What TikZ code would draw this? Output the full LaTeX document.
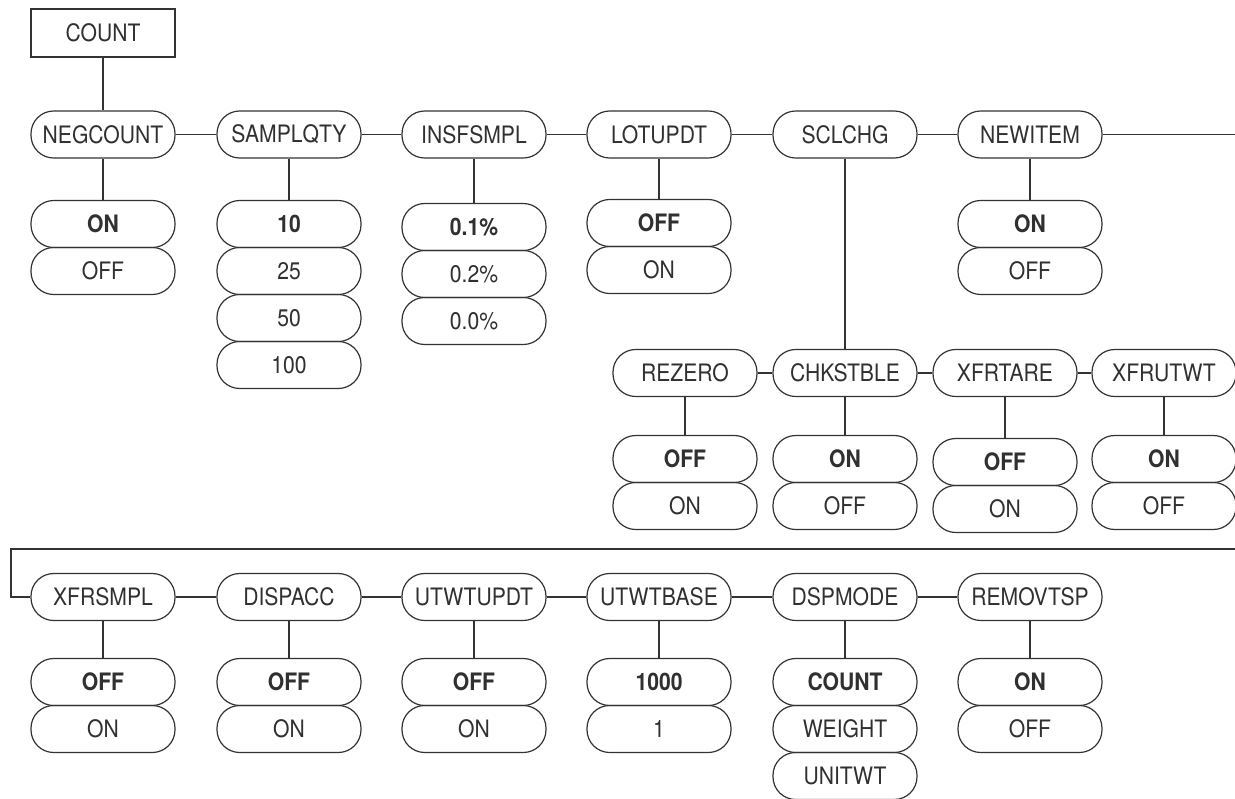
\documentclass[tikz,border=0pt]{standalone}
\usepackage{fontspec}
\setmainfont[FakeStretch=0.88]{TeX Gyre Heros}
\definecolor{ln}{HTML}{333333}
\definecolor{txt}{HTML}{303030}
\begin{document}
\begin{tikzpicture}[x=0.75pt,y=-0.75pt,
  every node/.style={font=\fontsize{18}{21}\selectfont, text=txt},
  menu/.style={draw=ln, line width=0.9pt, rounded corners=17pt, minimum width=108pt, minimum height=35.25pt, inner sep=0pt},
  dflt/.style={menu, font=\fontsize{18}{21}\selectfont\bfseries},
  topbox/.style={draw=ln, line width=0.9pt, minimum width=108pt, minimum height=36pt, inner sep=0pt},
  link/.style={draw=ln, line width=0.9pt}]
\useasboundingbox (0,0) rectangle (1235,799);

% top
\node[topbox] (count) at (103,33) {COUNT};

% row 1
\node[menu] (neg)  at (103,134.5) {NEGCOUNT};
\node[menu] (samp) at (289,134.5) {SAMPLQTY};
\node[menu] (insf) at (474,134.5) {INSFSMPL};
\node[menu] (lot)  at (659,134.5) {LOTUPDT};
\node[menu] (scl)  at (845,134.5) {SCLCHG};
\node[menu] (newi) at (1030,134.5) {NEWITEM};

\node[dflt] (neg1) at (103,224) {ON};
\node[menu] (neg2) at (103,271) {OFF};
\node[dflt] (samp1) at (289,224) {10};
\node[menu] (samp2) at (289,271) {25};
\node[menu] (samp3) at (289,318) {50};
\node[menu] (samp4) at (289,365) {100};
\node[dflt] (insf1) at (474,227) {0.1\%};
\node[menu] (insf2) at (474,274) {0.2\%};
\node[menu] (insf3) at (474,321) {0.0\%};
\node[dflt] (lot1) at (659,223) {OFF};
\node[menu] (lot2) at (659,270) {ON};
\node[dflt] (newi1) at (1030,224) {ON};
\node[menu] (newi2) at (1030,271) {OFF};

% row 2
\node[menu] (rez)   at (685,373) {REZERO};
\node[menu] (chk)   at (845,373) {CHKSTBLE};
\node[menu] (xtare) at (1005,373) {XFRTARE};
\node[menu] (xutwt) at (1164,373) {XFRUTWT};

\node[dflt] (rez1) at (685,459) {OFF};
\node[menu] (rez2) at (685,506) {ON};
\node[dflt] (chk1) at (845,459) {ON};
\node[menu] (chk2) at (845,506) {OFF};
\node[dflt] (xtare1) at (1005,462) {OFF};
\node[menu] (xtare2) at (1005,509) {ON};
\node[dflt] (xutwt1) at (1164,459) {ON};
\node[menu] (xutwt2) at (1164,506) {OFF};

% row 3
\node[menu] (xsmpl)  at (103,597) {XFRSMPL};
\node[menu] (disp)   at (289,597) {DISPACC};
\node[menu] (utup)   at (474,597) {UTWTUPDT};
\node[menu] (utbase) at (659,597) {UTWTBASE};
\node[menu] (dsp)    at (845,597) {DSPMODE};
\node[menu] (remov)  at (1030,597) {REMOVTSP};

\node[dflt] (xsmpl1) at (103,682) {OFF};
\node[menu] (xsmpl2) at (103,729) {ON};
\node[dflt] (disp1) at (289,682) {OFF};
\node[menu] (disp2) at (289,729) {ON};
\node[dflt] (utup1) at (474,682) {OFF};
\node[menu] (utup2) at (474,729) {ON};
\node[dflt] (utbase1) at (659,682) {1000};
\node[menu] (utbase2) at (659,729) {1};
\node[dflt] (dsp1) at (845,682) {COUNT};
\node[menu] (dsp2) at (845,729) {WEIGHT};
\node[menu] (dsp3) at (845,776) {UNITWT};
\node[dflt] (remov1) at (1030,682) {ON};
\node[menu] (remov2) at (1030,729) {OFF};

% connectors
\draw[link] (count) -- (neg);
\draw[link] (neg) -- (samp);
\draw[link] (samp) -- (insf);
\draw[link] (insf) -- (lot);
\draw[link] (lot) -- (scl);
\draw[link] (scl) -- (newi);
\coordinate (r1) at (1235,134.5);
\draw[link] (newi) -- (r1);

\draw[link] (neg) -- (neg1);
\draw[link] (samp) -- (samp1);
\draw[link] (insf) -- (insf1);
\draw[link] (lot) -- (lot1);
\draw[link] (newi) -- (newi1);
\draw[link] (scl) -- (chk);

\draw[link] (rez) -- (chk);
\draw[link] (chk) -- (xtare);
\draw[link] (xtare) -- (xutwt);
\draw[link] (rez) -- (rez1);
\draw[link] (chk) -- (chk1);
\draw[link] (xtare) -- (xtare1);
\draw[link] (xutwt) -- (xutwt1);

\coordinate (r2) at (1235,549);
\coordinate (l2) at (11,549);
\draw[link] (r2) -- (l2) |- (xsmpl);
\draw[link] (xsmpl) -- (disp);
\draw[link] (disp) -- (utup);
\draw[link] (utup) -- (utbase);
\draw[link] (utbase) -- (dsp);
\draw[link] (dsp) -- (remov);
\draw[link] (xsmpl) -- (xsmpl1);
\draw[link] (disp) -- (disp1);
\draw[link] (utup) -- (utup1);
\draw[link] (utbase) -- (utbase1);
\draw[link] (dsp) -- (dsp1);
\draw[link] (remov) -- (remov1);
\end{tikzpicture}
\end{document}
